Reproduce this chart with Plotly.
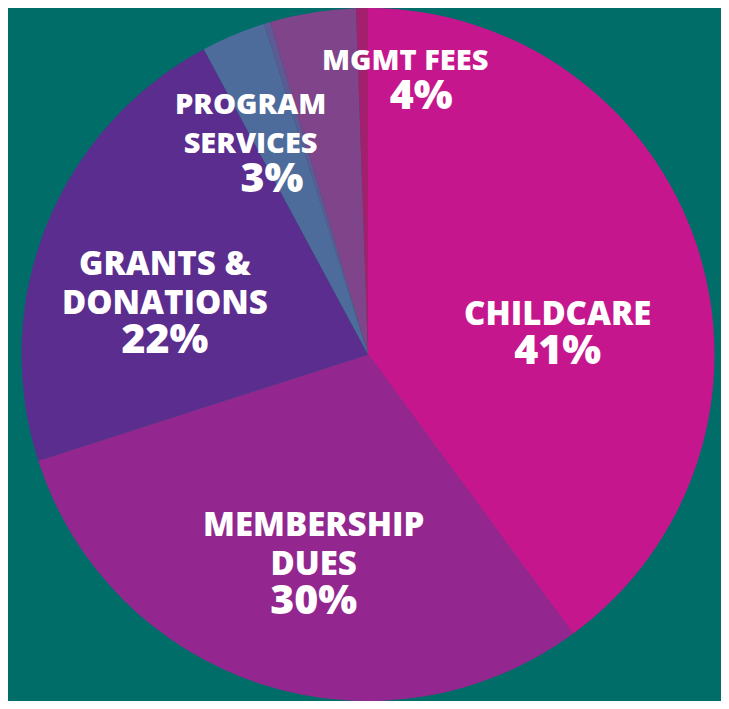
import plotly.graph_objects as go

# Slice data (clockwise from 12 o'clock)
categories = ["CHILDCARE", "MEMBERSHIP DUES", "GRANTS & DONATIONS", "PROGRAM SERVICES",
              "OTHER A", "MGMT FEES", "OTHER B"]
values = [39.9, 30.1, 22.1, 3.0, 0.3, 4.0, 0.55]
colors = ["#C6168D", "#93278F", "#5B2D8F", "#4E6C9B", "#5E5A95", "#7F4489", "#A4206F"]

# Printed labels
label_lines = [["CHILDCARE"], ["MEMBERSHIP", "DUES"], ["GRANTS &", "DONATIONS"],
               ["PROGRAM", "SERVICES"], [], ["MGMT FEES"], []]
pct_labels = ["41%", "30%", "22%", "3%", "", "4%", ""]

OFF = 8                      # page margin of the browser
W, H = 729 - 2 * OFF, 709 - 2 * OFF
BG = "#006D69"

# label block placement in window pixels (layout only)
block_pos = [(557, 333), (313, 563), (165, 302), (250, 144), None, (405, 80), None]
pct_pad = [0, 0, 0, 4, 0, 3, 0]          # nbsp padding to push the % right
line_size = [33, 33, 33, 29, None, 29, None]
PCT_SIZE = 41

cx, r = 368 - OFF, 346.5
fig = go.Figure(go.Pie(
    labels=categories, values=values, sort=False, direction="clockwise", rotation=0,
    marker=dict(colors=colors, line=dict(width=0)),
    textinfo="none", hoverinfo="label+percent", showlegend=False,
    domain=dict(x=[(cx - r) / W, (cx + r) / W], y=[0, 1]),
))

ann = []
for i in range(len(categories)):
    if not pct_labels[i]:
        continue
    parts = [f"<span style='font-size:{line_size[i]}px'>{t.replace('&', '&amp;')}</span>"
             for t in label_lines[i]]
    parts.append(f"<span style='font-size:{PCT_SIZE}px'>{chr(160) * pct_pad[i]}{pct_labels[i]}</span>")
    px, py = block_pos[i]
    ann.append(dict(text="<br>".join(parts), x=(px - OFF) / W, y=1 - (py - OFF) / H,
                    xref="paper", yref="paper", showarrow=False,
                    xanchor="center", yanchor="middle", align="center",
                    font=dict(family="Open Sans", size=30, color="white", weight=800)))

fig.update_layout(width=W, height=H, margin=dict(l=0, r=0, t=0, b=0),
                  paper_bgcolor=BG, plot_bgcolor=BG, annotations=ann)
fig.write_html("out.html")
